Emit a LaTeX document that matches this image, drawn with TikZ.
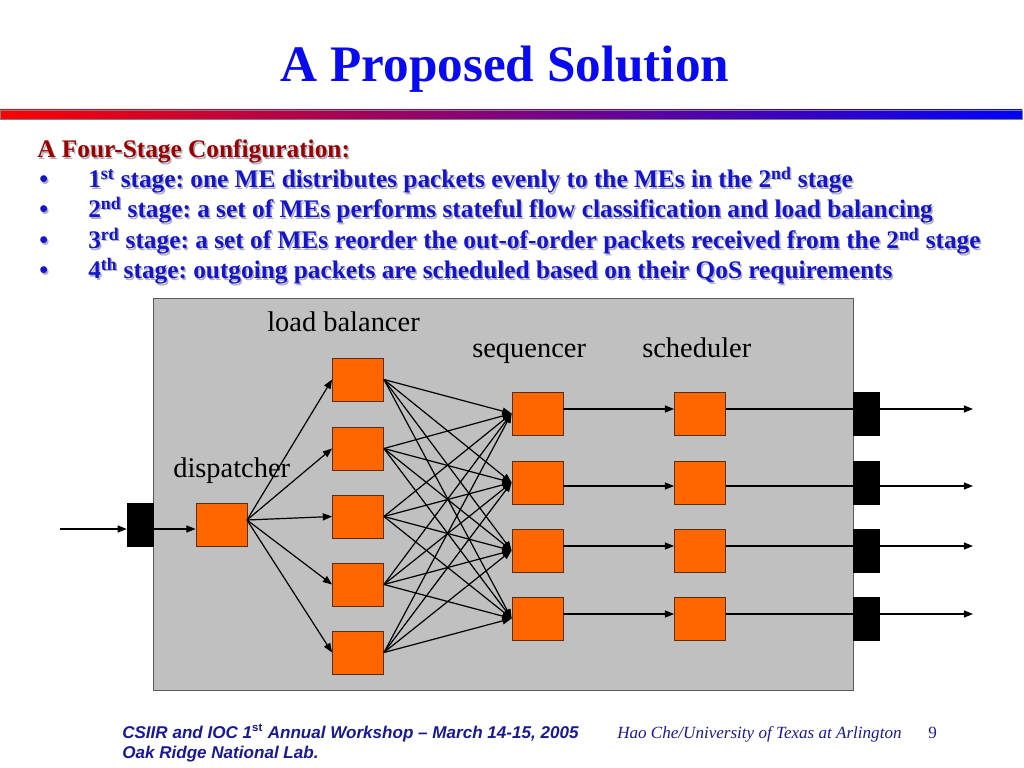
\documentclass[tikz,border=0pt]{standalone}
\usepackage{fontspec}
\setmainfont{Liberation Serif}
\newfontfamily\arialf{Liberation Sans}
\usetikzlibrary{arrows.meta}
\frenchspacing
\definecolor{titleblue}{RGB}{10,10,240}
\definecolor{txtblue}{RGB}{20,20,205}
\definecolor{headred}{RGB}{155,0,0}
\definecolor{shadowc}{RGB}{175,175,190}
\definecolor{footblue}{RGB}{25,25,150}
\definecolor{panelgray}{RGB}{192,192,192}
\definecolor{paneledge}{RGB}{90,90,90}
\definecolor{boxorange}{RGB}{255,102,0}
\definecolor{boxedge}{RGB}{90,45,15}
\definecolor{barmid}{RGB}{215,0,215}
\begin{document}
\begin{tikzpicture}[x=0.703125pt,y=-0.703125pt,
  me/.style={draw=boxedge, line width=0.6pt, fill=boxorange, minimum width=51*0.703125pt, minimum height=43*0.703125pt, inner sep=0pt},
  port/.style={fill=black, draw=black, line width=0.3pt, minimum width=26*0.703125pt, minimum height=43*0.703125pt, inner sep=0pt},
  arr/.style={-{Triangle[length=6.5pt,width=5pt]}, line width=0.85pt, black},
  plain/.style={line width=0.85pt, black},
  lbl/.style={font=\fontsize{20}{24}\selectfont, anchor=base west, inner sep=0pt, text=black},
  bul/.style={font=\fontsize{17.8}{22}\selectfont\bfseries, anchor=base west, inner sep=0pt},
  foot/.style={anchor=base west, inner sep=0pt, text=footblue},
]
\useasboundingbox (0,0) rectangle (1024,768);
\fill[white] (0,0) rectangle (1024,768);

% title
\node[font=\fontsize{36}{43}\selectfont\bfseries, text=titleblue, anchor=base, inner sep=0pt] (title) at (505,82) {A Proposed Solution};

% gradient bar
\shade[left color=red, middle color=barmid, right color=blue] (0,110) rectangle (1022,119);
\draw[black!50, line width=0.4pt] (0,110) rectangle (1022,119);

% heading with shadow
\node[bul, text=shadowc] (heads) at (38.5,159.5) {A Four-Stage Configuration:};
\node[bul, text=headred] (head) at (37,158) {A Four-Stage Configuration:};

% bullets
\foreach \k/\yy in {1/188,2/218,3/249,4/279} {
  \node[bul, text=shadowc] (bs\k) at (40.5,\yy+1.5) {•};
  \node[bul, text=txtblue] (b\k) at (39,\yy) {•};
}
\node[bul, text=shadowc] (l1s) at (89.5,189.5) {1\textsuperscript{st} stage: one ME distributes packets evenly to the MEs in the 2\textsuperscript{nd} stage};
\node[bul, text=txtblue] (l1) at (88,188) {1\textsuperscript{st} stage: one ME distributes packets evenly to the MEs in the 2\textsuperscript{nd} stage};
\node[bul, text=shadowc] (l2s) at (89.5,219.5) {2\textsuperscript{nd} stage: a set of MEs performs stateful flow classification and load balancing};
\node[bul, text=txtblue] (l2) at (88,218) {2\textsuperscript{nd} stage: a set of MEs performs stateful flow classification and load balancing};
\node[bul, text=shadowc] (l3s) at (89.5,250.5) {3\textsuperscript{rd} stage: a set of MEs reorder the out-of-order packets received from the 2\textsuperscript{nd} stage};
\node[bul, text=txtblue] (l3) at (88,249) {3\textsuperscript{rd} stage: a set of MEs reorder the out-of-order packets received from the 2\textsuperscript{nd} stage};
\node[bul, text=shadowc] (l4s) at (89.5,280.5) {4\textsuperscript{th} stage: outgoing packets are scheduled based on their QoS requirements};
\node[bul, text=txtblue] (l4) at (88,279) {4\textsuperscript{th} stage: outgoing packets are scheduled based on their QoS requirements};

% panel
\filldraw[fill=panelgray, draw=paneledge, line width=0.6pt] (153,298) rectangle (853,690);

% labels
\node[lbl] (tlb) at (267,332) {load balancer};
\node[lbl] (tseq) at (472,357) {sequencer};
\node[lbl] (tsch) at (642,357) {scheduler};
\node[lbl] (tdisp) at (173,477) {dispatcher};

% nodes
\node[port] (inblk) at (140,524.5) {};
\node[me] (disp) at (221.5,524.5) {};
\foreach \i/\y in {1/379.5,2/448.5,3/516.5,4/584.5,5/652.5}
  \node[me] (lb\i) at (358,\y) {};
\foreach \j/\y in {1/413.5,2/482.5,3/550.5,4/618.5} {
  \node[me] (seq\j) at (537.5,\y) {};
  \node[me] (sch\j) at (700,\y) {};
  \node[port] (out\j) at (866,\y) {};
}

% input
\coordinate (in0) at (60,529);
\draw[arr] (in0) -- (inblk.west |- in0);
\draw[arr] (inblk.east |- in0) -- (disp.west |- in0);

% dispatcher fan
\coordinate (dfan) at (247,520);
\foreach \i in {1,...,5}
  \draw[arr] (dfan) -- (lb\i.west);

% load balancer to sequencer
\foreach \i in {1,...,5}
  \foreach \j in {1,...,4}
    \draw[arr] (lb\i.east) -- (seq\j.west);

% sequencer -> scheduler -> output
\foreach \j/\r in {1/409,2/486,3/546,4/614} {
  \coordinate (row\j) at (0,\r);
  \coordinate (end\j) at (973,\r);
  \draw[arr] (seq\j.east |- row\j) -- (sch\j.west |- row\j);
  \draw[plain] (sch\j.east |- row\j) -- (out\j.west |- row\j);
  \draw[arr] (out\j.east |- row\j) -- (end\j);
}

% footer
\node[foot, font=\arialf\fontsize{12}{14}\selectfont\bfseries\itshape] (f1) at (122,738) {CSIIR and IOC 1\textsuperscript{\upshape st} Annual Workshop – March 14-15, 2005};
\node[foot, font=\arialf\fontsize{12}{14}\selectfont\bfseries\itshape] (f2) at (122,758) {Oak Ridge National Lab.};
\node[foot, font=\fontsize{12}{14}\selectfont\itshape] (f3) at (617,738) {Hao Che/University of Texas at Arlington};
\node[foot, font=\fontsize{12}{14}\selectfont] (f4) at (928,738) {9};
\end{tikzpicture}
\end{document}
